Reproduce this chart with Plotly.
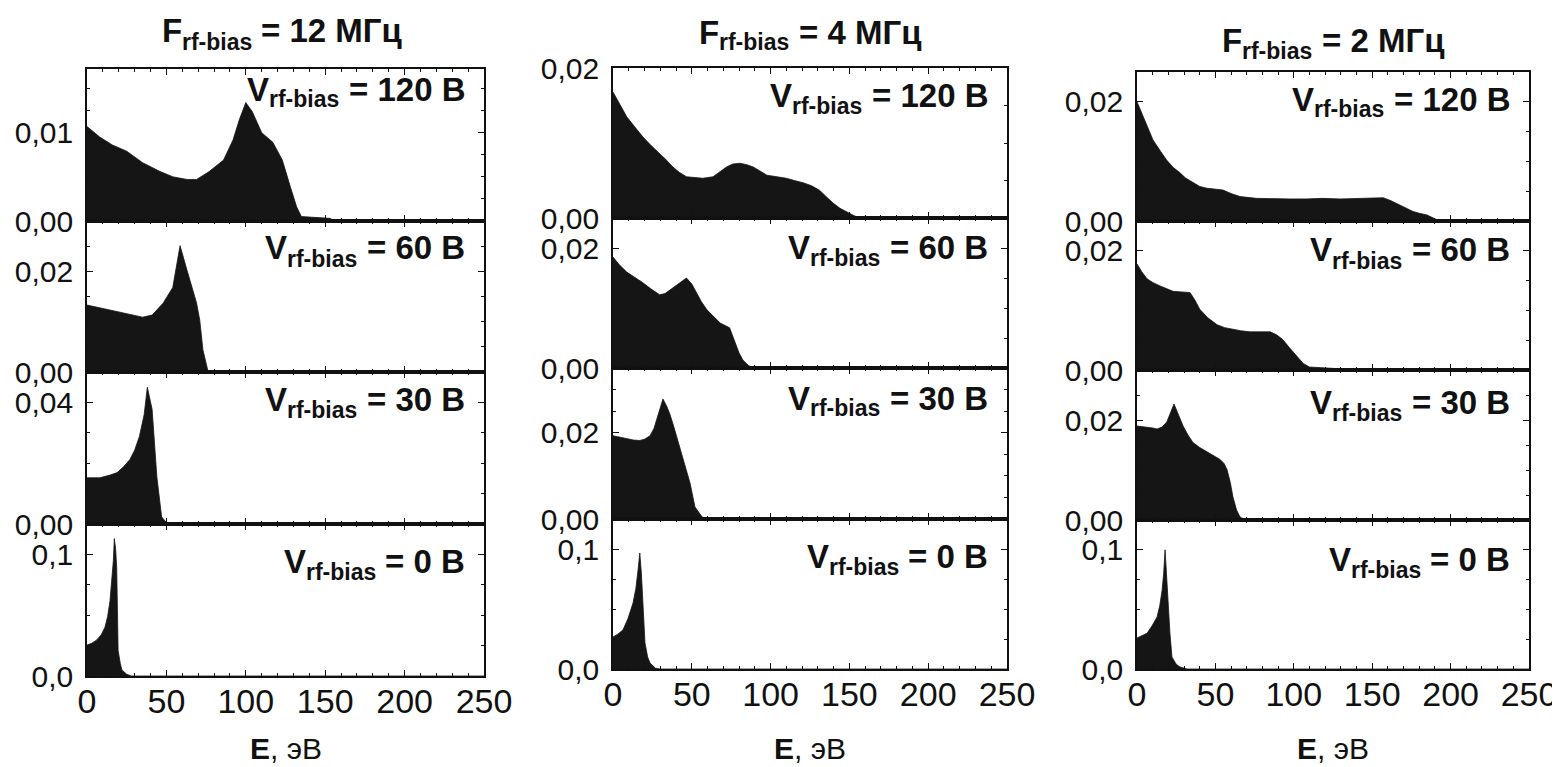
import plotly.graph_objects as go

# ---------------- data (E in eV, IEDF values) ----------------
# F = 12 MHz
e_12_120 = [0, 8, 16, 25, 35, 46, 54, 63, 69, 77, 86, 92, 96, 100, 104, 110, 117, 123, 128, 132, 135, 147, 153, 156, 250]
f_12_120 = [0.0107, 0.0095, 0.0086, 0.0079, 0.0066, 0.0056, 0.0050, 0.0047, 0.0047, 0.0056, 0.0069, 0.0092, 0.0115, 0.0134, 0.0124, 0.0100, 0.0089, 0.0069, 0.0039, 0.0016, 0.0005, 0.0004, 0.0003, 0.0, 0.0]
e_12_60 = [0, 10, 19, 28, 35, 41, 48, 54, 58.6, 63, 69, 71, 73, 76, 78, 250]
f_12_60 = [0.0133, 0.0126, 0.0119, 0.0114, 0.0109, 0.0113, 0.0137, 0.0168, 0.0251, 0.0202, 0.0137, 0.0103, 0.0044, 0.0004, 0.0, 0.0]
e_12_30 = [0, 8, 14, 19, 23, 27, 30, 33, 36, 38, 41, 44, 47, 50, 53, 250]
f_12_30 = [0.0152, 0.0152, 0.0160, 0.0169, 0.0188, 0.0212, 0.0243, 0.0288, 0.0360, 0.0450, 0.0377, 0.0155, 0.0023, 0.0005, 0.0, 0.0]
e_12_0 = [0, 3, 6, 9, 11.3, 13, 14.5, 15.8, 16.6, 17.2, 18.0, 18.7, 19.6, 21, 22, 25, 28, 250]
f_12_0 = [0.0254, 0.0270, 0.0295, 0.0340, 0.040, 0.049, 0.062, 0.080, 0.095, 0.113, 0.105, 0.089, 0.021, 0.010, 0.005, 0.0014, 0.0, 0.0]

# F = 4 MHz
e_4_120 = [0, 4, 8.7, 14, 19, 24, 29.6, 34, 38, 42, 46.6, 52, 57, 63.5, 68, 72, 76, 80.6, 85, 89, 93, 97.7, 104, 110, 115, 120.6, 126, 131, 135, 139.6, 144, 148.5, 153, 157, 250]
f_4_120 = [0.0168, 0.0152, 0.0135, 0.0121, 0.0108, 0.0097, 0.0086, 0.0077, 0.0068, 0.0061, 0.0055, 0.0054, 0.0053, 0.0055, 0.0062, 0.0068, 0.0072, 0.0073, 0.0071, 0.0068, 0.0063, 0.0057, 0.0055, 0.0053, 0.0050, 0.0047, 0.0043, 0.0037, 0.0029, 0.0020, 0.0013, 0.0008, 0.0003, 0.0, 0.0]
e_4_60 = [0, 4, 8.7, 14, 19, 24, 29.6, 33, 36, 41, 44, 46.6, 50, 53, 56, 59.6, 64, 68, 74, 77.4, 80, 82.5, 86, 89, 250]
f_4_60 = [0.0185, 0.0172, 0.0160, 0.0151, 0.0142, 0.0132, 0.0122, 0.0124, 0.0130, 0.0139, 0.0146, 0.0150, 0.0140, 0.0125, 0.0111, 0.0097, 0.0085, 0.0075, 0.0067, 0.0042, 0.0025, 0.0013, 0.0004, 0.0, 0.0]
e_4_30 = [0, 4, 8.7, 13, 17, 20, 23.5, 26, 28, 30, 31.7, 34, 36, 38.5, 40.6, 44.4, 48.9, 52, 56.5, 59, 250]
f_4_30 = [0.0193, 0.0190, 0.0186, 0.0183, 0.0182, 0.0185, 0.0193, 0.0210, 0.0234, 0.0260, 0.0278, 0.0262, 0.0244, 0.0215, 0.0189, 0.0143, 0.0083, 0.0028, 0.0005, 0.0, 0.0]
e_4_0 = [0, 3, 6.3, 9.5, 12.7, 14.5, 15.9, 17, 18, 19, 20.3, 22, 23.5, 27, 30, 250]
f_4_0 = [0.0267, 0.0290, 0.0325, 0.0420, 0.055, 0.067, 0.0825, 0.0967, 0.080, 0.055, 0.0217, 0.010, 0.005, 0.0006, 0.0, 0.0]

# F = 2 MHz
e_2_120 = [0, 4, 10.2, 15, 19, 23, 27.4, 31, 35.7, 40, 44.6, 50, 54.8, 60, 65.7, 76, 86.7, 97, 108, 118, 129.5, 140, 150.5, 157, 162, 167.7, 172, 176, 180, 185, 189, 193, 250]
f_2_120 = [0.0200, 0.0175, 0.0136, 0.0117, 0.0102, 0.0090, 0.0081, 0.0072, 0.0064, 0.0058, 0.0055, 0.0054, 0.0052, 0.0046, 0.0041, 0.0038, 0.0037, 0.0037, 0.0037, 0.0038, 0.0037, 0.0038, 0.0039, 0.0039, 0.0034, 0.0027, 0.0021, 0.0016, 0.0013, 0.0010, 0.0005, 0.0, 0.0]
e_2_60 = [0, 3, 6.4, 10, 14.7, 19, 23, 28, 33.8, 37, 40, 45, 51, 56, 61, 66, 72, 78, 85, 89, 93, 97, 102, 106, 110, 120, 129.5, 131, 250]
f_2_60 = [0.0178, 0.0165, 0.0153, 0.0147, 0.0141, 0.0137, 0.0132, 0.0131, 0.0130, 0.0117, 0.0102, 0.0088, 0.0076, 0.0071, 0.0068, 0.0066, 0.0064, 0.0064, 0.0064, 0.0059, 0.0051, 0.0038, 0.0022, 0.0011, 0.0005, 0.0003, 0.0002, 0.0, 0.0]
e_2_30 = [0, 3, 6.4, 10, 12.8, 16, 19, 21.5, 23.6, 26.5, 29.4, 32.5, 35.7, 40, 44.6, 49, 53, 55.5, 57.4, 59.5, 61.2, 63.5, 65.7, 68, 70, 250]
f_2_30 = [0.0188, 0.0187, 0.0186, 0.0184, 0.0182, 0.0186, 0.0196, 0.0214, 0.0232, 0.0210, 0.0188, 0.0170, 0.0155, 0.0145, 0.0137, 0.0129, 0.0121, 0.0113, 0.0101, 0.0075, 0.0046, 0.0020, 0.0006, 0.0002, 0.0, 0.0]
e_2_0 = [0, 3, 6.4, 9.5, 12.8, 14.5, 16, 17, 17.9, 18.8, 19.8, 21, 22.3, 25, 27.4, 32, 250]
f_2_0 = [0.026, 0.028, 0.030, 0.036, 0.0437, 0.053, 0.066, 0.080, 0.100, 0.080, 0.055, 0.030, 0.010, 0.004, 0.0017, 0.0, 0.0]

columns = ["12", "4", "2"]
voltages = ["120", "60", "30", "0"]
energies = [[e_12_120, e_12_60, e_12_30, e_12_0],
            [e_4_120, e_4_60, e_4_30, e_4_0],
            [e_2_120, e_2_60, e_2_30, e_2_0]]
values = [[f_12_120, f_12_60, f_12_30, f_12_0],
          [f_4_120, f_4_60, f_4_30, f_4_0],
          [f_2_120, f_2_60, f_2_30, f_2_0]]

# y-axis ranges and labelled ticks per panel
y_ranges = [[0.0172, 0.030, 0.050, 0.125],
            [0.020, 0.025, 0.035, 0.125],
            [0.025, 0.025, 0.030, 0.125]]
y_tickvals = [[[0, 0.01], [0, 0.02], [0, 0.04], [0, 0.1]],
              [[0, 0.02], [0, 0.02], [0, 0.02], [0, 0.1]],
              [[0, 0.02], [0, 0.02], [0, 0.02], [0, 0.1]]]
y_ticktext = [[["0,00", "0,01"], ["0,00", "0,02"], ["0,00", "0,04"], ["0,0", "0,1"]],
              [["0,00", "0,02"], ["0,00", "0,02"], ["0,00", "0,02"], ["0,0", "0,1"]],
              [["0,00", "0,02"], ["0,00", "0,02"], ["0,00", "0,02"], ["0,0", "0,1"]]]
y_minor = [[0.0025, 0.005, 0.01, 0.025],
           [0.005, 0.005, 0.005, 0.025],
           [0.005, 0.005, 0.005, 0.025]]
x_tickvals = [0, 50, 100, 150, 200, 250]
x_ticktext = ["0", "50", "100", "150", "200", "250"]

# ---------------- layout geometry (pixels in the 1560x767 window) ----------------
OFF = 8                      # default body margin of the html page
W, H = 1560 - OFF, 767 - OFF
col_x = [(87, 484), (613, 1007), (1137, 1529)]
col_y = [[69, 221, 372, 524, 676], [68, 218, 368, 519, 669], [72, 221, 370, 520, 669]]
title_pos = [(283, 31), (811, 32), (1334, 40)]
label_off = [[20, 27, 27, 37], [27, 29, 30, 37], [27, 29, 32, 39]]

FONT = "Liberation Sans, Arial, sans-serif"
INK = "#111111"
S_MAIN = 33
S_SUB = 23

# approximate advance widths of Liberation Sans Bold (em units)
ADV = {"V": 0.667, "F": 0.611, "r": 0.389, "f": 0.333, "-": 0.333, "b": 0.611,
       "i": 0.278, "a": 0.556, "s": 0.556, " ": 0.278, "=": 0.584, "В": 0.722,
       "М": 0.833, "Г": 0.611, "ц": 0.635}


def text_w(t, size):
    return sum(ADV.get(ch, 0.556) for ch in t) * size


def px_x(p):
    return (p - OFF) / W


def px_y(p):
    return 1 - (p - OFF) / H


def piece(x, y, text, size, xanchor):
    return dict(xref="paper", yref="paper", x=px_x(x), y=px_y(y), xanchor=xanchor,
                yanchor="middle", showarrow=False, text=text, borderpad=0, borderwidth=0,
                font=dict(size=size, color=INK, family=FONT, weight="bold"))


def subscript_label(left, yc, head, sub, rest):
    """head + subscript + ' ' + rest, starting at pixel 'left', main text centred at yc."""
    x1 = left + text_w(head, S_MAIN)
    x2 = x1 + text_w(sub, S_SUB) + text_w(" ", S_MAIN)
    return [piece(left, yc, head, S_MAIN, "left"),
            piece(x1, yc + 10.5, sub, S_SUB, "left"),
            piece(x2, yc, rest, S_MAIN, "left")]


def label_width(head, sub, rest):
    return text_w(head, S_MAIN) + text_w(sub, S_SUB) + text_w(" ", S_MAIN) + text_w(rest, S_MAIN)


fig = go.Figure()
layout = dict(
    width=W, height=H, margin=dict(l=0, r=0, t=0, b=0, autoexpand=False),
    paper_bgcolor="white", plot_bgcolor="white", showlegend=False,
    font=dict(family=FONT, color=INK),
)
annotations = []

for c in range(3):
    for r in range(4):
        n = c * 4 + r + 1
        xs = "" if n == 1 else str(n)
        fig.add_trace(go.Scatter(
            x=energies[c][r], y=values[c][r], mode="lines",
            line=dict(color="#151515", width=0.8), fill="tozeroy",
            fillcolor="#151515", xaxis="x" + xs, yaxis="y" + xs,
            hoverinfo="skip"))
        top, bot = col_y[c][r], col_y[c][r + 1]
        layout["xaxis" + xs] = dict(
            domain=[px_x(col_x[c][0]), px_x(col_x[c][1])], anchor="y" + xs,
            range=[0, 250], tickvals=x_tickvals, ticktext=x_ticktext,
            showticklabels=(r == 3), ticks="inside", ticklen=6, tickwidth=1.3,
            tickcolor=INK, minor=dict(dtick=10, tick0=0, ticks="inside", ticklen=3, tickcolor=INK),
            showline=True, linecolor=INK, linewidth=1.6, mirror="ticks",
            showgrid=False, zeroline=False, fixedrange=True, automargin=False,
            tickfont=dict(size=34, color=INK, family=FONT), ticklabelstandoff=-6,
        )
        layout["yaxis" + xs] = dict(
            domain=[px_y(bot), px_y(top)], anchor="x" + xs,
            range=[0, y_ranges[c][r]], tickvals=y_tickvals[c][r], ticktext=y_ticktext[c][r],
            ticks="inside", ticklen=6, tickwidth=1.3, tickcolor=INK,
            minor=dict(dtick=y_minor[c][r], tick0=0, ticks="inside", ticklen=3, tickcolor=INK),
            showline=True, linecolor=INK, linewidth=1.6, mirror="ticks",
            showgrid=False, zeroline=False, fixedrange=True, automargin=False,
            tickfont=dict(size=30, color=INK, family=FONT), ticklabelstandoff=6,
        )
        rest = "= " + voltages[r] + " В"
        right = col_x[c][1] - 19
        left = right - label_width("V", "rf-bias", rest)
        annotations += subscript_label(left, top + label_off[c][r], "V", "rf-bias", rest)
    rest = "= " + columns[c] + " МГц"
    left = title_pos[c][0] - label_width("F", "rf-bias", rest) / 2
    annotations += subscript_label(left, title_pos[c][1], "F", "rf-bias", rest)
    annotations.append(dict(
        xref="paper", yref="paper", x=px_x((col_x[c][0] + col_x[c][1]) / 2), y=px_y(748),
        xanchor="center", yanchor="middle", showarrow=False,
        text="<b>E</b>, эВ", font=dict(size=30, color=INK, family=FONT)))

layout["annotations"] = annotations
fig.update_layout(**layout)
fig.write_html("out.html")
